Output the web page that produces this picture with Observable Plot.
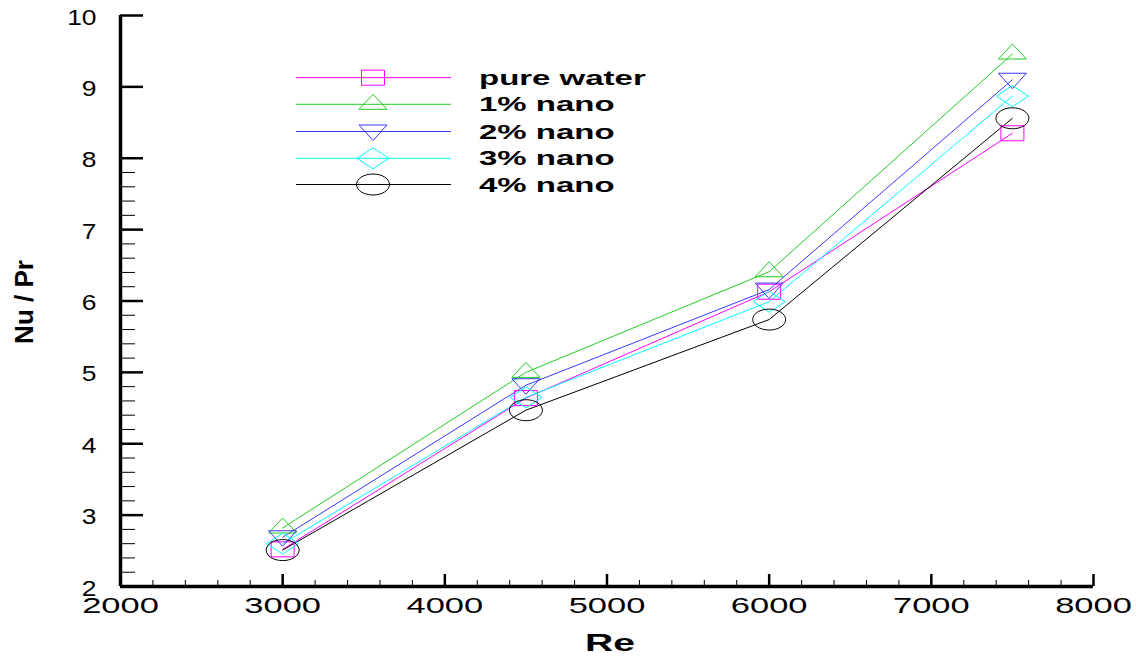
<!DOCTYPE html>
<html><head><meta charset="utf-8">
<script src="https://cdn.jsdelivr.net/npm/d3@7"></script>
<script src="https://cdn.jsdelivr.net/npm/@observablehq/plot@0.6"></script>
<style>
body{margin:0;background:#fff;}
#wrap{position:relative;width:1136px;height:661px;overflow:hidden;}
#wrap svg{position:absolute;left:0;top:0;}
</style></head><body><div id="wrap"></div>
<script>
// ---- data ----
const reValues = [3000, 4500, 6000, 7500];
const pureWater = [2.52, 4.64, 6.13, 8.35];
const nano1 = [2.82, 5.00, 6.41, 9.46];
const nano2 = [2.69, 4.82, 6.16, 9.10];
const nano3 = [2.60, 4.65, 5.99, 8.87];
const nano4 = [2.51, 4.47, 5.74, 8.56];
const seriesNames = ["pure water", "1% nano", "2% nano", "3% nano", "4% nano"];
const seriesColors = ["#ff00ff", "#22cc22", "#3838ff", "#00ffff", "#000000"];
const xTickValues = [2000, 3000, 4000, 5000, 6000, 7000, 8000];
const yTickValues = [2, 3, 4, 5, 6, 7, 8, 9, 10];
const xLabel = "Re";
const yLabel = "Nu / Pr";

// ---- symbols (hollow markers) ----
function ellipsePath(c, rx, ry) {
  const k = 0.5523;
  c.moveTo(rx, 0);
  c.bezierCurveTo(rx, ry * k, rx * k, ry, 0, ry);
  c.bezierCurveTo(-rx * k, ry, -rx, ry * k, -rx, 0);
  c.bezierCurveTo(-rx, -ry * k, -rx * k, -ry, 0, -ry);
  c.bezierCurveTo(rx * k, -ry, rx, -ry * k, rx, 0);
  c.closePath();
}
const symSquare = {draw(c) { c.rect(-11.5, -7.5, 23, 15); }};
const symUp = {draw(c) { c.moveTo(0, -10); c.lineTo(14, 5); c.lineTo(-14, 5); c.closePath(); }};
const symDown = {draw(c) { c.moveTo(-14, -6.5); c.lineTo(14, -6.5); c.lineTo(0, 9); c.closePath(); }};
const symDiamond = {draw(c) { c.moveTo(0, -10.5); c.lineTo(16, 0); c.lineTo(0, 10.5); c.lineTo(-16, 0); c.closePath(); }};
const symEllipse = {draw(c) { ellipsePath(c, 16.5, 10.5); }};
const seriesSymbols = [symSquare, symUp, symDown, symDiamond, symEllipse];
const seriesValues = [pureWater, nano1, nano2, nano3, nano4];

const rows = seriesNames.map((name, s) =>
  reValues.map((re, i) => ({series: name, re, v: seriesValues[s][i]})));

const xMinor = d3.range(2000, 8001, 200).filter(v => v % 1000 !== 0);
const yMinor = d3.range(10, 40, 1).filter(v => v % 5 !== 0).map(v => v / 5);

// ---- layout ----
const W = 1136, H = 661;
const mL = 120, mR = 43, mT = 15, mB = 75;
const pw = W - mL - mR, ph = H - mT - mB;

const marks = [
  Plot.tickX(xMinor, {x: d => d, insetTop: ph - 6, stroke: "#000", strokeWidth: 1}),
  Plot.tickX(xTickValues, {x: d => d, insetTop: ph - 12, stroke: "#000", strokeWidth: 2.5}),
  Plot.tickY(yMinor, {y: d => d, insetRight: pw - 15, stroke: "#000", strokeWidth: 1}),
  Plot.tickY(yTickValues, {y: d => d, insetRight: pw - 23, stroke: "#000", strokeWidth: 2.5}),
  Plot.ruleX([2000], {stroke: "#000", strokeWidth: 3.5}),
  Plot.ruleY([2], {stroke: "#000", strokeWidth: 3.5}),
  Plot.axisX(xTickValues, {tickSize: 0, tickPadding: 10, fontSize: 23, tickFormat: d => String(d), label: null}),
  Plot.axisY(yTickValues, {tickSize: 0, tickPadding: 24, fontSize: 22, dy: 2, tickFormat: d => String(d), label: null})
];
rows.forEach((data, s) => {
  marks.push(Plot.line(data, {x: "re", y: "v", stroke: seriesColors[s], strokeWidth: 1}));
});
rows.forEach((data, s) => {
  marks.push(Plot.dot(data, {x: "re", y: "v", r: 10, symbol: seriesSymbols[s], stroke: seriesColors[s], fill: "none", strokeWidth: 1}));
});

const chart = Plot.plot({
  width: W, height: H,
  marginLeft: mL, marginRight: mR, marginTop: mT, marginBottom: mB,
  x: {domain: [2000, 8000]},
  y: {domain: [2, 10]},
  style: {background: "white", fontFamily: "'Liberation Sans', Arial, sans-serif", color: "#000", overflow: "visible"},
  marks
});
document.getElementById("wrap").appendChild(chart);

// stretch tick labels horizontally like the original
function stretch(sel, sx) {
  d3.select(chart).selectAll(sel).each(function() {
    const el = d3.select(this);
    let t = el.attr("transform");
    if (!t) {
      const x = +el.attr("x") || 0, y = +el.attr("y") || 0;
      el.attr("x", null).attr("y", null);
      t = `translate(${x},${y})`;
    }
    el.attr("transform", `${t} scale(${sx},1)`);
  });
}
stretch('g[aria-label="x-axis tick label"] text', 1.5);
stretch('g[aria-label="y-axis tick label"] text', 1.2);

// ---- legend & axis titles overlay ----
const ov = d3.select("#wrap").append("svg").attr("width", W).attr("height", H)
  .style("pointer-events", "none")
  .attr("font-family", "'Liberation Sans', Arial, sans-serif");
const legendRows = [77.7, 104.3, 131.5, 158.3, 184.5];
seriesNames.forEach((name, s) => {
  const y = legendRows[s];
  ov.append("line").attr("x1", 296).attr("x2", 451).attr("y1", y).attr("y2", y)
    .attr("stroke", seriesColors[s]).attr("stroke-width", 1);
  const p = d3.path();
  seriesSymbols[s].draw(p);
  ov.append("path").attr("d", p.toString()).attr("transform", `translate(373,${y})`)
    .attr("fill", "none").attr("stroke", seriesColors[s]).attr("stroke-width", 1);
  ov.append("text").attr("transform", `translate(479,${y + 7}) scale(1.65,1)`)
    .attr("font-size", 20).attr("font-weight", "bold").attr("fill", "#000").text(name);
});
ov.append("text").attr("transform", "translate(610,651) scale(1.7,1)")
  .attr("text-anchor", "middle").attr("font-size", 23).attr("font-weight", "bold").text(xLabel);
ov.append("text").attr("transform", "translate(33,302) rotate(-90)")
  .attr("text-anchor", "middle").attr("font-size", 26).attr("font-weight", "bold").text(yLabel);
</script>
</body></html>
